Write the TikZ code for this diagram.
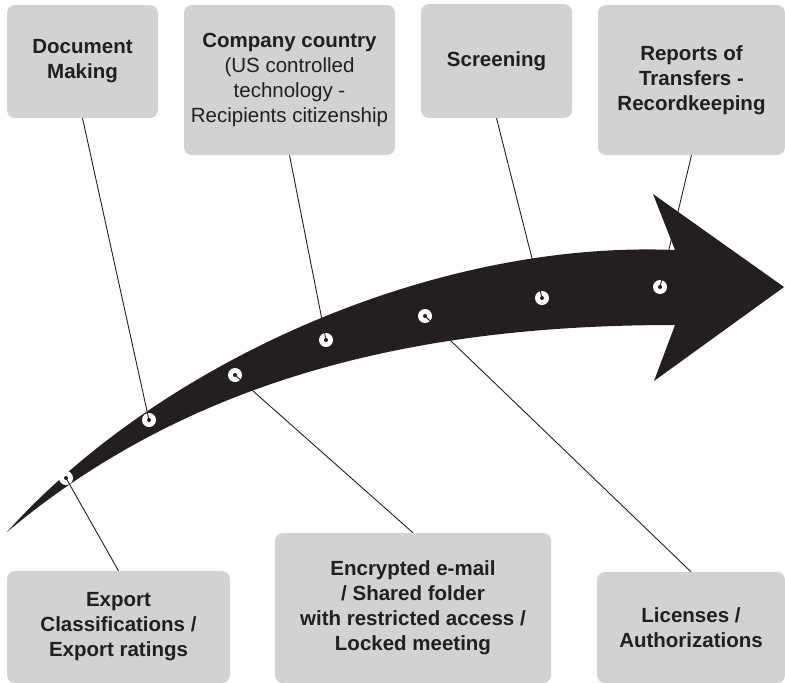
\documentclass[tikz,border=0pt]{standalone}
\usepackage{fontspec}
\setmainfont{Liberation Sans}
\definecolor{ink}{HTML}{231F20}
\definecolor{boxgray}{HTML}{D1D2D4}
\tikzset{
  box/.style={fill=boxgray, rounded corners=8pt, align=center, inner sep=0pt, text=ink,
    font=\fontsize{20.5}{25}\selectfont\bfseries},
  link/.style={draw=ink, line width=0.9pt}
}

\begin{document}
\begin{tikzpicture}[x=1pt,y=-1pt]
\useasboundingbox (0,0) rectangle (785,683);

% the curved arrow
\fill[ink] (7,532) .. controls (157,365) and (430,240) .. (675,250)
  -- (653,194) -- (784,287) -- (654,381) -- (675,325)
  .. controls (450,325) and (207,364) .. (7,532) -- cycle;

\coordinate (c0) at (66,478);
\coordinate (c1) at (149,420);
\coordinate (c2) at (235,375);
\coordinate (c3) at (326,340);
\coordinate (c4) at (425,316);
\coordinate (c5) at (542,298);
\coordinate (c6) at (660,287);

\node (l0) at (118.5,627) [box, minimum width=223pt, minimum height=112pt] {Export\\Classifications /\\Export ratings};
\node (l1) at (82.5,61.5) [box, minimum width=151pt, minimum height=113pt] {Document\\Making};
\node (l2) at (413,608) [box, minimum width=276pt, minimum height=150pt] {Encrypted e-mail\\/ Shared folder\\with restricted access /\\Locked meeting};
\node (l3) at (289.5,80) [box, minimum width=211pt, minimum height=150pt] {Company country\\\mdseries(US controlled\\\mdseries technology -\\\mdseries Recipients citizenship};
\node (l4) at (691,627.5) [box, minimum width=188pt, minimum height=111pt] {Licenses /\\Authorizations};
\node (l5) at (496.5,61) [box, minimum width=151pt, minimum height=114pt] {Screening};
\node (l6) at (691.5,80) [box, minimum width=187pt, minimum height=150pt] {Reports of\\Transfers -\\Recordkeeping};

\foreach \x in {0,...,6} {
\fill[white] (c\x) circle (7pt);
};

\foreach \x/\a in {0/north,1/south,2/north,3/south,4/north,5/south,6/south} {
\draw[link] (l\x.\a) -- (c\x);
\fill[ink] (c\x) circle (2pt);
};
\end{tikzpicture}
\end{document}
